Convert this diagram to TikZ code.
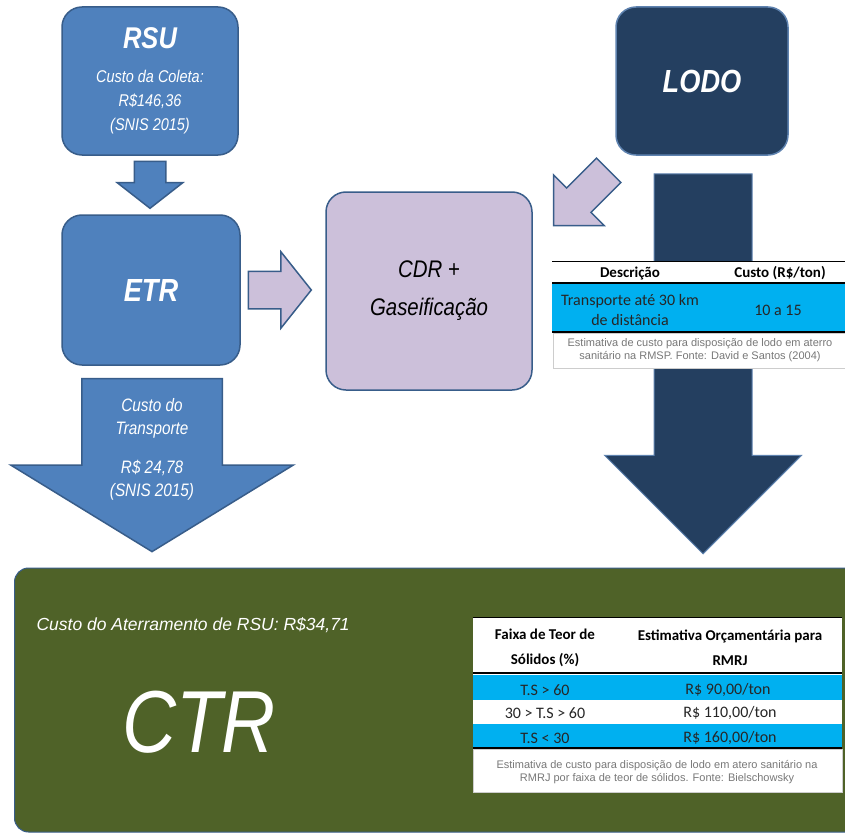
\documentclass[tikz,border=0pt]{standalone}
\usepackage{fontspec}
\setmainfont{Liberation Sans}
\newfontfamily\narrowfont[FakeStretch=0.85]{Liberation Sans}
\newfontfamily\tabfont{Carlito}
\usepackage{tikz}
\usetikzlibrary{shapes.arrows, positioning, calc}
\definecolor{rsublue}{RGB}{79,129,189}
\definecolor{rsuborder}{RGB}{56,93,138}
\definecolor{lodonavy}{RGB}{36,63,96}
\definecolor{lodoedge}{RGB}{94,130,175}
\definecolor{cdrlilac}{RGB}{204,192,218}
\definecolor{ctrgreen}{RGB}{79,98,40}
\definecolor{rowcyan}{RGB}{0,176,240}
\definecolor{capgray}{RGB}{120,120,120}
\definecolor{capedge}{RGB}{205,205,205}
\tikzset{
  basebox/.style={rectangle,rounded corners=20pt,align=center,line width=1.5pt},
  rsubox/.style={basebox,fill=rsublue,draw=rsuborder,text=white,
    font=\narrowfont\itshape\fontsize{17}{24}\selectfont},
  lodobox/.style={basebox,fill=lodonavy,draw=lodoedge,text=white,
    font=\narrowfont\itshape\bfseries\fontsize{32}{36}\selectfont},
  cdrbox/.style={basebox,fill=cdrlilac,draw=rsuborder,text=black,
    font=\narrowfont\itshape\fontsize{24}{38}\selectfont},
  ctrbox/.style={basebox,rounded corners=14pt,fill=ctrgreen,draw=rsuborder,line width=1pt},
  blockarr/.style={single arrow,inner xsep=0pt,minimum width=0pt,line width=1.5pt,anchor=tip},
  bluearr/.style={blockarr,fill=rsublue,draw=rsuborder},
  lilacarr/.style={blockarr,fill=cdrlilac,draw=rsuborder},
  navyarr/.style={blockarr,fill=lodonavy,draw=lodoedge,line width=1pt},
  arrtext/.style={align=center,text=white,font=\narrowfont\itshape\fontsize{18}{23}\selectfont},
  tabhead/.style={align=center,font=\tabfont\bfseries\fontsize{15}{25}\selectfont},
  tabcell/.style={align=center,text=black!85,font=\tabfont\fontsize{16}{20}\selectfont},
  tabcap/.style={align=center,text=capgray,font=\fontsize{11}{13}\selectfont},
  tabrule/.style={line width=2pt},
  tabtop/.style={line width=0.8pt}
}

\begin{document}
\begin{tikzpicture}[x=1pt,y=-1pt]
  \useasboundingbox (0,0) rectangle (845,832);
  \fill[white] (0,0) rectangle (845,832);
  \clip (0,0) rectangle (845,832);

  %% RSU -> ETR
  \node[rsubox,minimum width=176pt,minimum height=148pt] (rsu) at (150,81)
    {{\fontsize{30}{30}\selectfont\bfseries RSU}\\[10pt]Custo da Coleta:\\R\$146,36\\(SNIS 2015)};
  \node[rsubox,minimum width=178pt,minimum height=150pt,
        font=\narrowfont\itshape\bfseries\fontsize{32}{36}\selectfont] (etr) at (151,290) {ETR};
  \node[bluearr,inner ysep=15pt,single arrow head extend=17pt,single arrow tip angle=104,
        minimum height=47pt,rotate=-90] (collect) at ($(etr.north)+(-1,-5)$) {};

  %% CDR + Gaseificacao
  \node[cdrbox,minimum width=206pt,minimum height=198pt] (cdr) at (429,291)
    {CDR +\\Gaseificação};
  \node[lilacarr,inner ysep=18pt,single arrow head extend=19.5pt,single arrow tip angle=103,
        minimum height=63pt] (etr2cdr) at ($(cdr.west)+(-13,-1)$) {};

  %% LODO
  \node[lodobox,minimum width=172pt,minimum height=148pt] (lodo) at (702,81) {LODO};
  \node[lilacarr,inner ysep=16.5pt,single arrow head extend=18.5pt,single arrow tip angle=90,
        minimum height=78pt,rotate=-135] (lodo2cdr) at ($(cdr.north east)+(20,35)$) {};

  %% CTR
  \node[ctrbox,minimum width=845pt,minimum height=264pt] (ctr) at (437,700) {};
  \node[anchor=west,text=white,font=\itshape\fontsize{17.5}{20}\selectfont] (ctrcost) at (33,625)
    {Custo do Aterramento de RSU: R\$34,71};
  \node[text=white,font=\narrowfont\itshape\fontsize{88}{88}\selectfont] (ctrname) at (199,722) {CTR};

  %% transport arrows into CTR
  \node[bluearr,inner ysep=69.5pt,single arrow head extend=71pt,single arrow tip angle=117,
        minimum height=173pt,rotate=-90] (transp) at ($(etr.south |- ctr.north)+(1,-15)$) {};
  \node[arrtext] (transpcost) at (152,449)
    {Custo do\\Transporte\\[16pt]R\$ 24,78\\(SNIS 2015)};
  \node[navyarr,inner ysep=48.5pt,single arrow head extend=49.5pt,single arrow tip angle=90,
        minimum height=380pt,rotate=-90] (lodotransp) at ($(lodo.south |- ctr.north)+(1,-13)$) {};

  %% LODO cost table
  \fill[white] (552,261) rectangle (855,368);
  \fill[rowcyan] (552,284) rectangle (855,332);
  \draw[tabtop] (552,261) -- (855,261);
  \draw[tabrule] (552,283) -- (855,283);
  \draw[tabrule] (552,332) -- (855,332);
  \draw[capedge] (553,333) rectangle (855,368);
  \node[tabhead] (lododesc) at (630,273) {Descrição};
  \node[tabhead] (lodocusto) at (780,273) {Custo (R\$/ton)};
  \node[tabcell] (lodokm) at (630,310) {Transporte até 30 km\\de distância};
  \node[tabcell] (lodoval) at (778,310) {10 a 15};
  \node[tabcap] (lodocap) at (700,350)
    {Estimativa de custo para disposição de lodo em aterro\\sanitário na RMSP. Fonte: David e Santos (2004)};

  %% CTR cost table
  \fill[white] (473,617) rectangle (842,792);
  \fill[rowcyan] (473,675) rectangle (842,700);
  \fill[rowcyan] (473,724) rectangle (842,748);
  \draw[tabtop] (473,617) -- (842,617);
  \draw[tabrule] (473,673) -- (842,673);
  \draw[tabrule] (473,748) -- (842,748);
  \draw[capedge] (473,749) rectangle (842,792);
  \node[tabhead] (faixa) at (545,648) {Faixa de Teor de\\Sólidos (\%)};
  \node[tabhead] (orcam) at (730,648) {Estimativa Orçamentária para\\RMRJ};
  \node[tabcell] (ts1) at (545,690) {T.S > 60};
  \node[tabcell] (cost1) at (728,690) {R\$ 90,00/ton};
  \node[tabcell] (ts2) at (545,713) {30 > T.S > 60};
  \node[tabcell] (cost2) at (730,713) {R\$ 110,00/ton};
  \node[tabcell] (ts3) at (545,738) {T.S < 30};
  \node[tabcell] (cost3) at (730,738) {R\$ 160,00/ton};
  \node[tabcap] (ctrcap) at (657,772)
    {Estimativa de custo para disposição de lodo em atero sanitário na\\RMRJ por faixa de teor de sólidos. Fonte: Bielschowsky};
\end{tikzpicture}
\end{document}
